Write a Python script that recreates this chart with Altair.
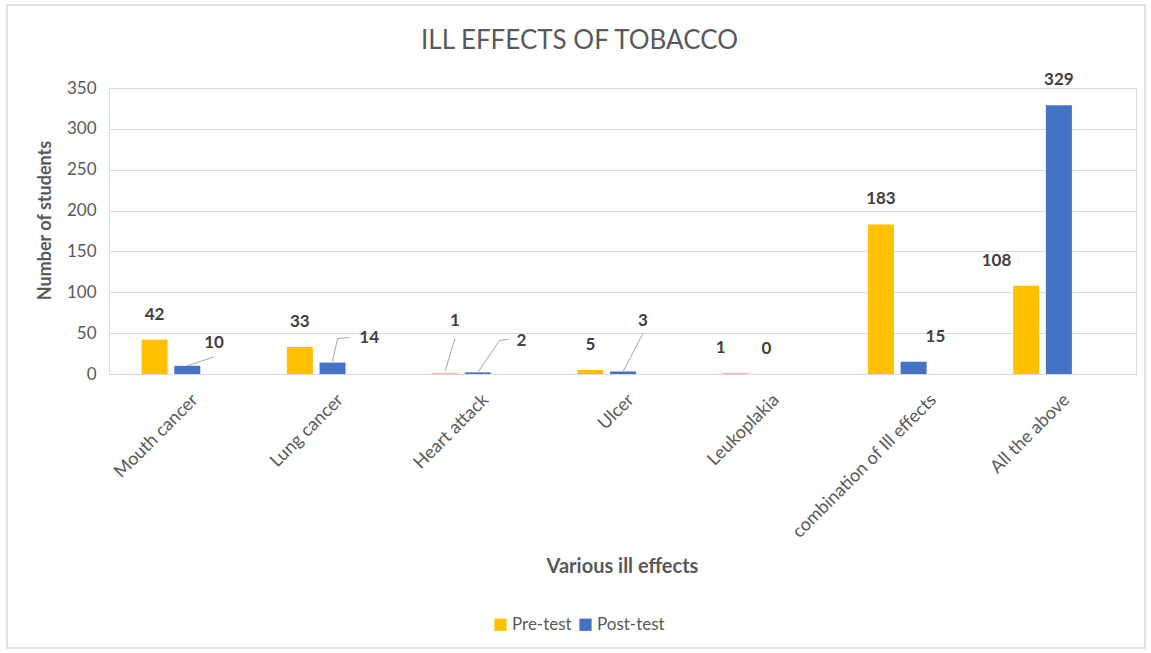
import json
import altair as alt
import pandas as pd

# ---- data -------------------------------------------------------------
categories = ["Mouth cancer", "Lung cancer", "Heart attack", "Ulcer",
              "Leukoplakia", "combination of Ill effects", "All the above"]
series = ["Pre-test", "Post-test"]
pre_test = [42, 33, 1, 5, 1, 183, 108]
post_test = [10, 14, 2, 3, 0, 15, 329]
y_ticks = [0, 50, 100, 150, 200, 250, 300, 350]

# ---- layout -----------------------------------------------------------
W, H = 1027, 286                 # plot area
PAD = {"left": 109, "top": 88, "right": 15, "bottom": 279}
X_MIN, X_MAX = -0.392, 6.609     # category index domain
Y_MAX = 350
PX_X = W / (X_MAX - X_MIN)       # pixels per category step
PX_Y = H / Y_MAX                 # pixels per student
HALF_GAP = 16.5                  # px from group centre to bar centre
BAR_W = 26
LABEL_LIFT = 25                  # px from bar top to label centre

PRE_COLOR, POST_COLOR = "#FFC000", "#4472C4"
GRID = "#D9D9D9"
TXT = "#595959"
FONT = "Lato"

# data-label nudges (px) for crowded bars: (dx, dy)
pre_nudge = [(0, 0), (0, 0), (10, -27), (0, 0), (-15, 0), (0, 0), (-30, 0)]
post_nudge = [(27, 2), (37, 0), (44, -6), (20, -26), (-2, 0), (22, 0), (0, 0)]

# callout leader lines: px points relative to the bar's top centre
leaders = {
    ("Post-test", 0): [(0, 0), (27, -9)],
    ("Post-test", 1): [(0, -1), (5, -24), (17, -25)],
    ("Pre-test", 2): [(0, -2), (10, -35)],
    ("Post-test", 2): [(0, 0), (22, -32), (31, -33)],
    ("Post-test", 3): [(0, 0), (20, -38)],
}

# ---- tables -----------------------------------------------------------
rows = []
for i, cat in enumerate(categories):
    for s, vals, nudge, sign in (("Pre-test", pre_test, pre_nudge, -1),
                                 ("Post-test", post_test, post_nudge, 1)):
        pos = i + sign * HALF_GAP / PX_X
        v = vals[i]
        dx, dy = nudge[i]
        rows.append({
            "category": cat, "series": s, "value": v, "pos": pos,
            "lx": pos + dx / PX_X,
            "ly": v + (LABEL_LIFT - dy) / PX_Y,
        })
bars = pd.DataFrame(rows)

lead_rows = []
for (s, i), pts in leaders.items():
    sign = -1 if s == "Pre-test" else 1
    vals = pre_test if s == "Pre-test" else post_test
    pos = i + sign * HALF_GAP / PX_X
    for k, (dx, dy) in enumerate(pts):
        lead_rows.append({"id": f"{s}-{i}", "k": k,
                          "x": pos + dx / PX_X,
                          "y": vals[i] - dy / PX_Y})
lead = pd.DataFrame(lead_rows)

x_scale = alt.Scale(domain=[X_MIN, X_MAX], nice=False, zero=False)
y_scale = alt.Scale(domain=[0, Y_MAX], nice=False)

label_expr = json.dumps(categories) + "[datum.value]"

x_axis = alt.Axis(
    values=list(range(len(categories))), labelExpr=label_expr,
    grid=False, ticks=False, domainColor=GRID, domainWidth=1,
    labelAngle=-45, labelAlign="right", labelBaseline="middle",
    labelOffset={"condition": {"test": "datum.value == 5", "value": 36},
                 "value": 24},
    labelPadding=23, labelFont=FONT, labelFontSize=18, labelLimit=400,
    labelColor=TXT, labelOverlap=False, labelBound=False, labelFlush=False,
    title="Various ill effects", titleFont=FONT, titleFontSize=20,
    titleFontWeight="bold", titleColor=TXT, titleX=513, titleY=192,
    titleAlign="center", titleBaseline="middle",
)
y_axis = alt.Axis(
    values=y_ticks, grid=True, gridColor=GRID, gridWidth=1,
    domain=False, ticks=False, labelFont=FONT, labelFontSize=17,
    labelColor=TXT, labelPadding=13,
    title="Number of students", titleFont=FONT, titleFontSize=18,
    titleFontWeight="bold", titleColor=TXT, titleX=-64, titleY=132,
    titleAlign="center", titleBaseline="middle", titleAngle=-90,
)

color = alt.Color(
    "series:N",
    scale=alt.Scale(domain=series, range=[PRE_COLOR, POST_COLOR]),
    legend=alt.Legend(
        title=None, orient="none", legendX=383, legendY=528,
        direction="horizontal", symbolType="square", symbolSize=150,
        symbolStrokeWidth=0, labelFont=FONT, labelFontSize=17,
        labelColor=TXT, labelOffset=3, columnPadding=5, padding=0,
    ),
)

# thin border around the whole chart
frame = alt.Chart(pd.DataFrame({"k": [0]})).mark_rect(
    fillOpacity=0, stroke=GRID, strokeWidth=1.5
).encode(
    x=alt.value(-102), x2=alt.value(1036),
    y=alt.value(-83), y2=alt.value(560),
)

bar_layer = alt.Chart(bars).mark_bar(size=BAR_W, orient="vertical").encode(
    x=alt.X("pos:Q", scale=x_scale, axis=x_axis),
    y=alt.Y("value:Q", scale=y_scale, axis=y_axis),
    color=color,
)

lead_layer = alt.Chart(lead).mark_line(
    color="#A6A6A6", strokeWidth=1
).encode(
    x=alt.X("x:Q", scale=x_scale),
    y=alt.Y("y:Q", scale=y_scale),
    detail="id:N",
    order="k:Q",
)

text_layer = alt.Chart(bars).mark_text(
    font=FONT, fontSize=17, fontWeight="bold", color="#404040",
    align="center", baseline="middle",
).encode(
    x=alt.X("lx:Q", scale=x_scale),
    y=alt.Y("ly:Q", scale=y_scale),
    text="value:Q",
)

chart = alt.layer(bar_layer, lead_layer, text_layer, frame).properties(
    width=W, height=H, padding=PAD, autosize="none",
    title=alt.TitleParams(
        "ILL EFFECTS OF TOBACCO", font=FONT, fontSize=26,
        fontWeight="normal", color=TXT, anchor="middle", dx=-43,
        offset=-63, baseline="middle",
    ),
).configure_view(stroke=None).configure(background="white")

chart.save("out.html", embed_options={"renderer": "svg", "actions": False})
